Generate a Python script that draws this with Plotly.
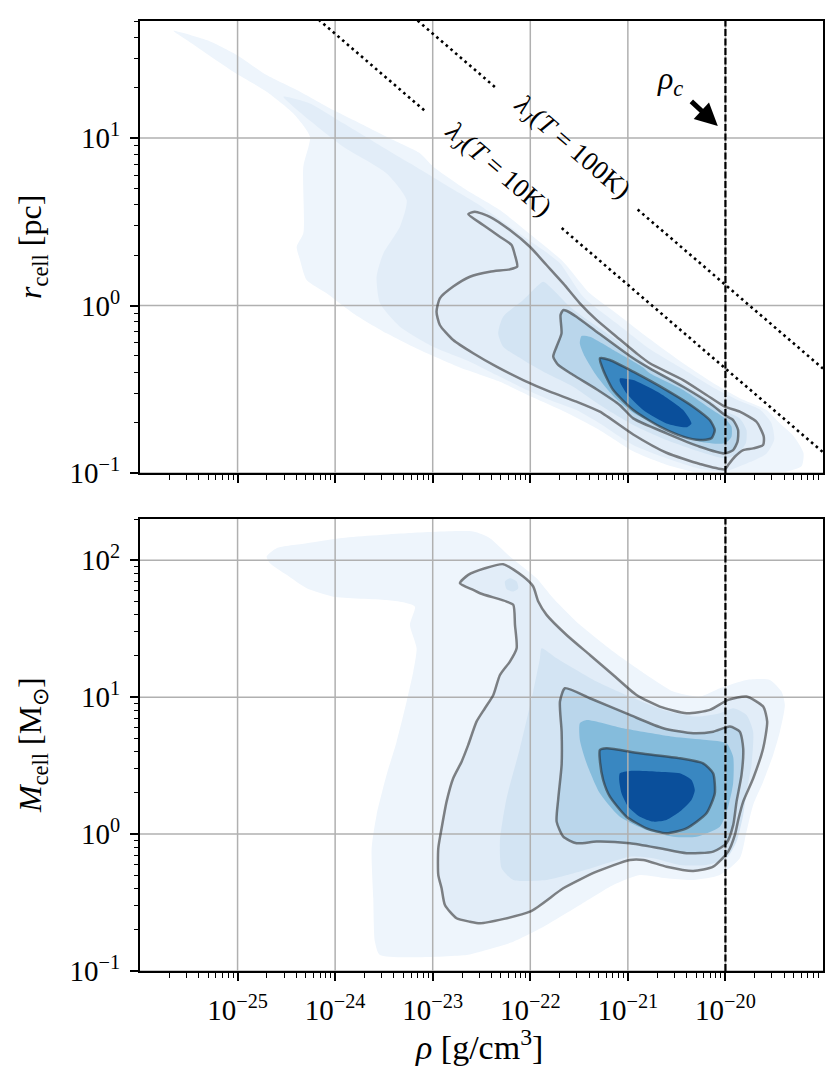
import numpy as np
import plotly.graph_objects as go

# ---- ticks -----------------------------------------------------------
RHO_TICKS = [1e-25, 1e-24, 1e-23, 1e-22, 1e-21, 1e-20]
RHO_LABELS = ["10<sup>−25</sup>", "10<sup>−24</sup>", "10<sup>−23</sup>",
              "10<sup>−22</sup>", "10<sup>−21</sup>", "10<sup>−20</sup>"]
R_TICKS = [0.1, 1, 10]
R_LABELS = ["10<sup>−1</sup>", "10<sup>0</sup>", "10<sup>1</sup>"]
M_TICKS = [0.1, 1, 10, 100]
M_LABELS = ["10<sup>−1</sup>", "10<sup>0</sup>", "10<sup>1</sup>", "10<sup>2</sup>"]

RHO_RANGE = [1e-26, 1e-19]
R_RANGE = [0.1, 50]
M_RANGE = [0.1, 200]
RHO_CRIT = 1e-20

# ---- Jeans length lines (gaps where the labels sit) --
JEANS_10K_RHO = [1e-26, 8.7e-24, None, 2.1e-22, 1e-19]
JEANS_10K_R = [420, 14.2, None, 2.9, 0.133]
JEANS_100K_RHO = [1e-26, 4.6e-23, None, 1.26e-21, 1e-19]
JEANS_100K_R = [1330, 19.6, None, 3.74, 0.42]

# ---- density contours, (log10 rho, log10 value) ------------------------
# top panel: r_cell
top_fill_1 = [
    (-25.658, 1.641), (-25.316, 1.585), (-25.009, 1.496), (-24.702, 1.376),
    (-24.360, 1.277), (-24.019, 1.167), (-23.677, 1.068), (-23.404, 0.988),
    (-23.131, 0.909), (-22.994, 0.829), (-22.653, 0.690), (-22.311, 0.570),
    (-21.969, 0.411), (-21.663, 0.262), (-21.390, 0.073), (-21.116, -0.047),
    (-20.775, -0.200), (-20.433, -0.345), (-20.092, -0.475), (-19.853, -0.554),
    (-19.579, -0.624), (-19.443, -0.703), (-19.300, -0.780), (-19.200, -0.880),
    (-19.220, -0.960), (-19.450, -1.000), (-20.260, -1.000), (-20.604, -0.950),
    (-20.945, -0.870), (-21.300, -0.740), (-21.700, -0.620), (-22.004, -0.540),
    (-22.311, -0.455), (-22.721, -0.370), (-23.131, -0.266), (-23.472, -0.166),
    (-23.814, -0.047), (-24.087, 0.073), (-24.292, 0.152), (-24.360, 0.272),
    (-24.394, 0.351), (-24.326, 0.431), (-24.326, 0.829), (-24.258, 1.008),
    (-24.428, 1.147), (-24.702, 1.277), (-25.043, 1.396), (-25.521, 1.585),
]
top_fill_2 = [
    (-24.531, 1.247), (-24.258, 1.207), (-23.916, 1.088), (-23.575, 0.968),
    (-23.233, 0.849), (-22.892, 0.729), (-22.550, 0.610), (-22.209, 0.471),
    (-21.867, 0.331), (-21.696, 0.252), (-21.458, 0.053), (-21.116, -0.106),
    (-20.775, -0.260), (-20.433, -0.380), (-20.092, -0.500), (-19.853, -0.570),
    (-19.650, -0.620), (-19.530, -0.700), (-19.500, -0.800), (-19.580, -0.885),
    (-19.750, -0.935), (-20.000, -0.990), (-20.262, -0.975), (-20.604, -0.912),
    (-20.945, -0.833), (-21.287, -0.704), (-21.526, -0.624), (-21.800, -0.564),
    (-22.073, -0.494), (-22.346, -0.415), (-22.619, -0.335), (-22.994, -0.246),
    (-23.336, -0.126), (-23.540, 0.013), (-23.575, 0.172), (-23.506, 0.311),
    (-23.336, 0.471), (-23.267, 0.630), (-23.472, 0.789), (-23.916, 0.948),
    (-24.250, 1.100),
]
top_fill_3 = [
    (-21.868, 0.142), (-21.782, 0.103), (-21.595, -0.007), (-21.390, -0.096),
    (-21.116, -0.206), (-20.900, -0.300), (-20.775, -0.370), (-20.433, -0.465),
    (-20.160, -0.564), (-20.006, -0.628), (-19.853, -0.674), (-19.784, -0.743),
    (-19.791, -0.823), (-19.870, -0.883), (-20.006, -0.912), (-20.262, -0.873),
    (-20.604, -0.803), (-20.945, -0.713), (-21.287, -0.594), (-21.560, -0.485),
    (-21.834, -0.405), (-22.073, -0.325), (-22.278, -0.246), (-22.329, -0.166),
    (-22.278, -0.067), (-22.073, 0.033), (-21.970, 0.093),
]
top_fill_5 = [
    (-21.475, -0.182), (-21.390, -0.186), (-21.116, -0.276), (-20.843, -0.370),
    (-20.775, -0.405), (-20.433, -0.505), (-20.160, -0.614), (-20.006, -0.674),
    (-19.938, -0.723), (-19.938, -0.783), (-20.006, -0.823), (-20.262, -0.813),
    (-20.604, -0.739), (-20.945, -0.640), (-21.150, -0.540), (-21.321, -0.420),
    (-21.441, -0.305), (-21.492, -0.226),
]
top_fill_7 = [
    (-21.082, -0.435), (-20.945, -0.445), (-20.672, -0.524), (-20.433, -0.624),
    (-20.348, -0.704), (-20.399, -0.727), (-20.604, -0.704), (-20.843, -0.624),
    (-21.014, -0.524), (-21.082, -0.455),
]
top_line_a = [
    (-22.636, 0.546), (-22.568, 0.560), (-22.414, 0.530), (-22.209, 0.451),
    (-22.004, 0.351), (-21.834, 0.242), (-21.663, 0.132), (-21.492, 0.013),
    (-21.321, -0.086), (-21.116, -0.186), (-20.912, -0.285), (-20.775, -0.345),
    (-20.433, -0.445), (-20.194, -0.534), (-20.006, -0.604), (-19.853, -0.634),
    (-19.682, -0.694), (-19.607, -0.783), (-19.614, -0.833), (-19.716, -0.853),
    (-19.818, -0.863), (-19.904, -0.903), (-19.972, -0.952), (-20.006, -0.978),
    (-20.262, -0.946), (-20.604, -0.879), (-20.945, -0.770), (-21.287, -0.634),
    (-21.526, -0.574), (-21.800, -0.514), (-22.073, -0.445), (-22.346, -0.365),
    (-22.585, -0.285), (-22.790, -0.206), (-22.927, -0.116), (-22.961, -0.037),
    (-22.927, 0.043), (-22.790, 0.113), (-22.619, 0.172), (-22.414, 0.202),
    (-22.209, 0.216), (-22.134, 0.232), (-22.158, 0.302), (-22.192, 0.361),
    (-22.312, 0.411), (-22.483, 0.481),
]
top_line_b = [
    (-21.663, -0.027), (-21.629, -0.031), (-21.526, -0.067), (-21.321, -0.156),
    (-20.980, -0.301), (-20.775, -0.375), (-20.433, -0.485), (-20.160, -0.584),
    (-20.006, -0.654), (-19.921, -0.684), (-19.870, -0.743), (-19.876, -0.813),
    (-19.921, -0.863), (-20.006, -0.883), (-20.262, -0.843), (-20.604, -0.763),
    (-20.945, -0.674), (-21.082, -0.595), (-21.321, -0.500), (-21.560, -0.415),
    (-21.714, -0.355), (-21.765, -0.305), (-21.731, -0.246), (-21.680, -0.166),
    (-21.690, -0.057),
]
top_line_c = [
    (-21.287, -0.315), (-21.185, -0.325), (-20.945, -0.395), (-20.604, -0.505),
    (-20.331, -0.604), (-20.160, -0.684), (-20.109, -0.743), (-20.143, -0.793),
    (-20.262, -0.803), (-20.433, -0.783), (-20.672, -0.723), (-20.945, -0.624),
    (-21.150, -0.505), (-21.253, -0.385),
]

# bottom panel: M_cell
bot_fill_1 = [
    (-24.702, 2.027), (-24.600, 2.088), (-24.292, 2.124), (-23.951, 2.161),
    (-23.268, 2.197), (-22.585, 2.209), (-22.414, 2.161), (-22.209, 2.027),
    (-21.935, 1.868), (-21.765, 1.722), (-21.491, 1.528), (-21.150, 1.333),
    (-20.808, 1.162), (-20.535, 1.041), (-20.262, 1.004), (-20.057, 1.065),
    (-19.784, 1.126), (-19.545, 1.126), (-19.425, 1.041), (-19.391, 0.943),
    (-19.442, 0.748), (-19.511, 0.578), (-19.613, 0.383), (-19.716, 0.213),
    (-19.784, 0.018), (-19.852, -0.177), (-20.057, -0.299), (-20.330, -0.335),
    (-20.603, -0.323), (-20.877, -0.299), (-21.150, -0.372), (-21.491, -0.518),
    (-21.833, -0.664), (-22.174, -0.786), (-22.516, -0.859), (-22.653, -0.883),
    (-23.541, -0.883), (-23.592, -0.786), (-23.609, -0.469), (-23.626, -0.104),
    (-23.575, 0.140), (-23.473, 0.432), (-23.370, 0.675), (-23.268, 0.967),
    (-23.199, 1.187), (-23.165, 1.357), (-23.234, 1.528), (-23.182, 1.661),
    (-23.302, 1.693), (-23.473, 1.710), (-24.019, 1.734), (-24.292, 1.795),
    (-24.497, 1.893), (-24.668, 1.978),
]
bot_fill_3 = [
    (-21.884, 1.357), (-21.730, 1.284), (-21.321, 1.114), (-20.979, 1.004),
    (-20.638, 0.907), (-20.296, 0.858), (-20.057, 0.882), (-19.920, 0.919),
    (-19.784, 0.870), (-19.716, 0.748), (-19.733, 0.505), (-19.784, 0.310),
    (-19.818, 0.140), (-19.886, -0.055), (-19.989, -0.177), (-20.194, -0.226),
    (-20.467, -0.226), (-20.740, -0.177), (-20.979, -0.165), (-21.218, -0.213),
    (-21.491, -0.274), (-21.833, -0.335), (-22.174, -0.335), (-22.294, -0.250),
    (-22.311, -0.055), (-22.243, 0.261), (-22.106, 0.627), (-21.970, 1.041),
    (-21.901, 1.284),
]
bot_fill_3b = [
    (-22.260, 1.844), (-22.209, 1.868), (-22.140, 1.844), (-22.123, 1.795),
    (-22.174, 1.771), (-22.243, 1.790),
]
bot_fill_5 = [
    (-21.492, 0.809), (-21.423, 0.833), (-21.048, 0.773), (-20.536, 0.711),
    (-20.194, 0.687), (-19.989, 0.663), (-19.921, 0.565), (-19.921, 0.371),
    (-19.972, 0.200), (-20.057, 0.054), (-20.296, -0.019), (-20.536, -0.019),
    (-20.809, 0.030), (-21.082, 0.127), (-21.287, 0.298), (-21.423, 0.517),
    (-21.492, 0.687),
]
bot_fill_7 = [
    (-21.082, 0.444), (-20.980, 0.461), (-20.706, 0.456), (-20.467, 0.444),
    (-20.348, 0.395), (-20.314, 0.322), (-20.348, 0.249), (-20.467, 0.164),
    (-20.604, 0.103), (-20.741, 0.091), (-20.877, 0.127), (-20.997, 0.200),
    (-21.065, 0.298), (-21.089, 0.395),
]
bot_line_a = [
    (-22.721, 1.832), (-22.636, 1.893), (-22.465, 1.941), (-22.277, 1.971),
    (-22.072, 1.881), (-21.970, 1.808), (-21.918, 1.698), (-21.833, 1.601),
    (-21.628, 1.454), (-21.389, 1.308), (-21.150, 1.162), (-20.911, 1.016),
    (-20.672, 0.931), (-20.398, 0.882), (-20.159, 0.907), (-19.972, 0.980),
    (-19.784, 1.004), (-19.613, 0.931), (-19.572, 0.821), (-19.613, 0.627),
    (-19.715, 0.408), (-19.818, 0.237), (-19.869, 0.103), (-19.903, -0.006),
    (-19.972, -0.128), (-20.125, -0.238), (-20.330, -0.269), (-20.603, -0.238),
    (-20.843, -0.189), (-20.979, -0.189), (-21.321, -0.274), (-21.662, -0.396),
    (-22.004, -0.567), (-22.516, -0.652), (-22.619, -0.640), (-22.756, -0.615),
    (-22.875, -0.518), (-22.909, -0.396), (-22.943, -0.299), (-22.943, -0.104),
    (-22.909, 0.042), (-22.858, 0.237), (-22.790, 0.408), (-22.704, 0.529),
    (-22.636, 0.651), (-22.551, 0.821), (-22.465, 0.919), (-22.379, 1.016),
    (-22.311, 1.162), (-22.209, 1.260), (-22.140, 1.357), (-22.157, 1.528),
    (-22.174, 1.674), (-22.243, 1.698), (-22.516, 1.759), (-22.585, 1.783),
]
bot_line_b = [
    (-21.645, 1.065), (-21.389, 0.992), (-20.979, 0.870), (-20.638, 0.773),
    (-20.330, 0.736), (-20.125, 0.748), (-19.954, 0.785), (-19.852, 0.748),
    (-19.818, 0.627), (-19.835, 0.432), (-19.886, 0.237), (-19.920, 0.067),
    (-19.989, -0.067), (-20.125, -0.128), (-20.398, -0.140), (-20.672, -0.104),
    (-20.979, -0.067), (-21.321, -0.055), (-21.526, -0.067), (-21.662, -0.019),
    (-21.730, 0.091), (-21.713, 0.261), (-21.679, 0.505), (-21.679, 0.748),
    (-21.696, 0.968),
]
bot_line_c = [
    (-21.287, 0.614), (-21.218, 0.627), (-20.877, 0.590), (-20.467, 0.554),
    (-20.229, 0.517), (-20.126, 0.444), (-20.109, 0.298), (-20.194, 0.152),
    (-20.399, 0.042), (-20.604, 0.006), (-20.809, 0.042), (-21.014, 0.127),
    (-21.184, 0.273), (-21.253, 0.395), (-21.287, 0.541),
]

BLUES = ["#eef5fc", "#e2edf8", "#d3e4f3", "#bad6eb", "#85bcdc", "#3987c1", "#0a4f9b"]
LINE_COLOR = "rgba(45,45,45,0.58)"
GRID_COLOR = "#b0b0b0"
SERIF = "Liberation Serif"


def unlog(pts, close=True):
    xs = [10 ** p[0] for p in pts]
    ys = [10 ** p[1] for p in pts]
    if close:
        xs.append(xs[0])
        ys.append(ys[0])
    return xs, ys


def fill_trace(pts, color, xa, ya):
    xs, ys = unlog(pts)
    return go.Scatter(x=xs, y=ys, mode="lines", fill="toself", fillcolor=color,
                      line=dict(width=0, shape="spline", smoothing=0.6),
                      xaxis=xa, yaxis=ya, hoverinfo="skip", showlegend=False)


def line_trace(pts, xa, ya):
    xs, ys = unlog(pts)
    return go.Scatter(x=xs, y=ys, mode="lines",
                      line=dict(color=LINE_COLOR, width=2.5, shape="spline", smoothing=0.6),
                      xaxis=xa, yaxis=ya, hoverinfo="skip", showlegend=False)


def grid_traces(yticks, yrange, xa, ya):
    out = []
    for v in RHO_TICKS:
        out.append(go.Scatter(x=[v, v], y=yrange, mode="lines",
                              line=dict(color=GRID_COLOR, width=1.5),
                              xaxis=xa, yaxis=ya, hoverinfo="skip", showlegend=False))
    for v in yticks:
        out.append(go.Scatter(x=RHO_RANGE, y=[v, v], mode="lines",
                              line=dict(color=GRID_COLOR, width=1.5),
                              xaxis=xa, yaxis=ya, hoverinfo="skip", showlegend=False))
    return out


fig = go.Figure()

# top panel
for pts, col in [(top_fill_1, BLUES[0]), (top_fill_2, BLUES[1]), (top_fill_3, BLUES[2]),
                 (top_line_b, BLUES[3]), (top_fill_5, BLUES[4]), (top_line_c, BLUES[5]),
                 (top_fill_7, BLUES[6])]:
    fig.add_trace(fill_trace(pts, col, "x", "y"))
for t in grid_traces(R_TICKS, R_RANGE, "x", "y"):
    fig.add_trace(t)
for pts in [top_line_a, top_line_b, top_line_c]:
    fig.add_trace(line_trace(pts, "x", "y"))
for xs, ys in [(JEANS_10K_RHO, JEANS_10K_R), (JEANS_100K_RHO, JEANS_100K_R)]:
    fig.add_trace(go.Scatter(x=xs, y=ys, mode="lines", connectgaps=False,
                             line=dict(color="black", width=2.6, dash="2.6px,3.6px"),
                             xaxis="x", yaxis="y", hoverinfo="skip", showlegend=False))
fig.add_trace(go.Scatter(x=[RHO_CRIT, RHO_CRIT], y=R_RANGE, mode="lines",
                         line=dict(color="black", width=2.2, dash="7px,2.5px"),
                         xaxis="x", yaxis="y", hoverinfo="skip", showlegend=False))

# bottom panel
for pts, col in [(bot_fill_1, BLUES[0]), (bot_line_a, BLUES[1]), (bot_fill_3, BLUES[2]),
                 (bot_fill_3b, BLUES[2]), (bot_line_b, BLUES[3]), (bot_fill_5, BLUES[4]),
                 (bot_line_c, BLUES[5]), (bot_fill_7, BLUES[6])]:
    fig.add_trace(fill_trace(pts, col, "x2", "y2"))
for t in grid_traces(M_TICKS, M_RANGE, "x2", "y2"):
    fig.add_trace(t)
for pts in [bot_line_a, bot_line_b, bot_line_c]:
    fig.add_trace(line_trace(pts, "x2", "y2"))
fig.add_trace(go.Scatter(x=[RHO_CRIT, RHO_CRIT], y=M_RANGE, mode="lines",
                         line=dict(color="black", width=2.2, dash="7px,2.5px"),
                         xaxis="x2", yaxis="y2", hoverinfo="skip", showlegend=False))

minor_x = [d * 10.0 ** k for k in range(-26, -19) for d in range(2, 10)]
minor_r = [d * 10.0 ** k for k in range(-1, 2) for d in range(2, 10)]
minor_m = [d * 10.0 ** k for k in range(-1, 3) for d in range(2, 10)]

tickfont = dict(family=SERIF, size=29, color="black")


def minor(vals):
    return dict(tickmode="array", tickvals=vals, ticks="outside", ticklen=4.5,
                tickwidth=1.1, tickcolor="black", showgrid=False)


def axis(**kw):
    base = dict(type="log", showline=True, linecolor="black", linewidth=2, mirror=True,
                ticks="outside", ticklen=8, tickwidth=1.5, tickcolor="black",
                showgrid=False, zeroline=False, tickfont=tickfont, tickmode="array",
                ticklabelstandoff=4, automargin=False)
    base.update(kw)
    return base


x_dom = [140 / 831, 823 / 831]
fig.update_layout(
    width=831, height=1080,
    margin=dict(l=0, r=0, t=0, b=0, pad=0, autoexpand=False),
    paper_bgcolor="white", plot_bgcolor="white",
    xaxis=axis(domain=x_dom, range=[-26, -19], anchor="y", tickvals=RHO_TICKS,
               showticklabels=False, minor=minor(minor_x)),
    yaxis=axis(domain=[607 / 1080, 1059 / 1080], range=[-1, np.log10(50)], anchor="x",
               tickvals=R_TICKS, ticktext=R_LABELS, minor=minor(minor_r)),
    xaxis2=axis(domain=x_dom, range=[-26, -19], anchor="y2", tickvals=RHO_TICKS,
                ticktext=RHO_LABELS, minor=minor(minor_x)),
    yaxis2=axis(domain=[109 / 1080, 561 / 1080], range=[-1, np.log10(200)], anchor="x2",
                tickvals=M_TICKS, ticktext=M_LABELS, minor=minor(minor_m)),
)

title_font = dict(family=SERIF, size=32, color="black")
label_font = dict(family=SERIF, size=27, color="black")
annotations = [
    dict(text="<i>r</i><sub>cell</sub> [pc]", xref="paper", yref="paper",
         x=32 / 831, y=(1080 - 247) / 1080, textangle=-90, showarrow=False,
         font=title_font, xanchor="center", yanchor="middle"),
    dict(text="<i>M</i><sub>cell</sub> [M<sub>⊙</sub>]", xref="paper", yref="paper",
         x=32 / 831, y=(1080 - 745) / 1080, textangle=-90, showarrow=False,
         font=title_font, xanchor="center", yanchor="middle"),
    dict(text="<i>ρ</i> [g/cm<sup>3</sup>]", xref="paper", yref="paper",
         x=479 / 831, y=(1080 - 1045) / 1080, showarrow=False,
         font=dict(family=SERIF, size=34, color="black"),
         xanchor="center", yanchor="middle"),
    dict(text="<i>λ</i><sub><i>J</i></sub>(<i>T</i> = 10K)", xref="x", yref="y",
         x=-22.34, y=0.81, textangle=40.6, showarrow=False, font=label_font),
    dict(text="<i>λ</i><sub><i>J</i></sub>(<i>T</i> = 100K)", xref="x", yref="y",
         x=-21.58, y=0.94, textangle=40.6, showarrow=False, font=label_font),
    dict(text="<i>ρ<sub>c</sub></i>", xref="x", yref="y", x=-20.57, y=1.346,
         showarrow=False, font=dict(family=SERIF, size=32, color="black")),
    dict(text="", xref="x", yref="y", x=-20.078, y=1.072, ax=-28, ay=-26,
         showarrow=True, arrowhead=2, arrowwidth=5, arrowsize=0.9,
         arrowcolor="black"),
]
fig.update_layout(annotations=annotations)

# drop the default page margin so the figure sits at the window's origin
page_fix = ("var s=document.createElement('style');"
            "s.textContent='html,body{margin:0;padding:0;overflow:hidden;"
            "height:1080px;width:831px;}';"
            "document.head.appendChild(s);")
fig.write_html("out.html", config={"displayModeBar": False}, post_script=page_fix)
